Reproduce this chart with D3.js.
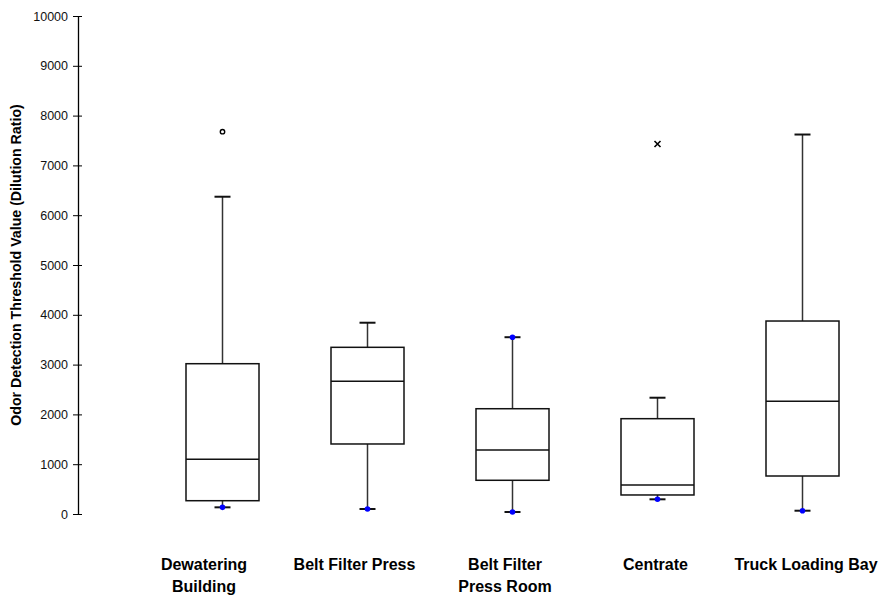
<!DOCTYPE html>
<html>
<head>
<meta charset="utf-8">
<script src="https://cdn.jsdelivr.net/npm/d3@7"></script>
<style>
  html, body { margin: 0; padding: 0; background: #fff; }
  svg { display: block; font-family: Arial, "Liberation Sans", sans-serif; }
</style>
</head>
<body>
<svg id="chart" width="880" height="596"></svg>
<script>
// ---- data ----
const categories = ["Dewatering Building", "Belt Filter Press", "Belt Filter Press Room", "Centrate", "Truck Loading Bay"];
const labelLines = [["Dewatering", "Building"], ["Belt Filter Press"], ["Belt Filter", "Press Room"], ["Centrate"], ["Truck Loading Bay"]];
const whiskerLow  = [134, 100, 40, 295, 66];
const q1          = [267, 1406, 677, 382, 763];
const median      = [1098, 2665, 1285, 582, 2263];
const q3          = [3018, 3347, 2114, 1914, 3875];
const whiskerHigh = [6371, 3841, 3550, 2335, 7620];
const outlierCircles = [{ cat: 0, value: 7677 }];
const outlierCrosses = [{ cat: 3, value: 7430 }];
const blueMarks = [
  { cat: 0, value: 134 }, { cat: 1, value: 100 }, { cat: 2, value: 40 },
  { cat: 2, value: 3550 }, { cat: 3, value: 295 }, { cat: 4, value: 66 }
];
const yTicks = [0, 1000, 2000, 3000, 4000, 5000, 6000, 7000, 8000, 9000, 10000];
const yTitle = "Odor Detection Threshold Value (Dilution Ratio)";

// ---- layout ----
const svg = d3.select("#chart");
const axisX = 78;
const y = d3.scaleLinear().domain([0, 10000]).range([514, 16]);
const x = d3.scaleBand().domain(categories).range([150, 875]).paddingInner(0).paddingOuter(0);
const xLabel = d3.scalePoint().domain(categories).range([204, 806]);
const boxW = 73;
const capW = 16;

// y axis
const yAxis = d3.axisLeft(y).tickValues(yTicks).tickSizeInner(5).tickSizeOuter(0).tickPadding(5)
  .tickFormat(d3.format("d"));
const gy = svg.append("g").attr("transform", `translate(${axisX},0)`).call(yAxis);
gy.select(".domain").attr("stroke", "#000").attr("stroke-width", 1.3);
gy.selectAll(".tick line").attr("x2", -5).attr("x1", 4).attr("stroke", "#000").attr("stroke-width", 1);
gy.selectAll(".tick text").attr("font-size", 12.5).attr("fill", "#111")
  .attr("font-family", "Arial, 'Liberation Sans', sans-serif");

svg.append("text")
  .attr("transform", `translate(21,${(y(0) + y(10000)) / 2}) rotate(-90)`)
  .attr("text-anchor", "middle")
  .attr("font-size", 14.2).attr("font-weight", "bold").attr("fill", "#000")
  .text(yTitle);

// boxes
const g = svg.append("g");
categories.forEach((c, i) => {
  const cx = x(c) + x.bandwidth() / 2;
  g.append("line").attr("x1", cx).attr("x2", cx).attr("y1", y(q3[i])).attr("y2", y(whiskerHigh[i]))
    .attr("stroke", "#333").attr("stroke-width", 1.5);
  g.append("line").attr("x1", cx).attr("x2", cx).attr("y1", y(q1[i])).attr("y2", y(whiskerLow[i]))
    .attr("stroke", "#333").attr("stroke-width", 1.5);
  [whiskerHigh[i], whiskerLow[i]].forEach(v => {
    g.append("line").attr("x1", cx - capW / 2).attr("x2", cx + capW / 2).attr("y1", y(v)).attr("y2", y(v))
      .attr("stroke", "#111").attr("stroke-width", 2);
  });
  g.append("rect").attr("x", cx - boxW / 2).attr("width", boxW)
    .attr("y", y(q3[i])).attr("height", y(q1[i]) - y(q3[i]))
    .attr("fill", "#fff").attr("stroke", "#111").attr("stroke-width", 1.5);
  g.append("line").attr("x1", cx - boxW / 2).attr("x2", cx + boxW / 2).attr("y1", y(median[i])).attr("y2", y(median[i]))
    .attr("stroke", "#111").attr("stroke-width", 1.5);
});

// blue markers
g.selectAll(".blue").data(blueMarks).join("circle")
  .attr("cx", d => x(categories[d.cat]) + x.bandwidth() / 2)
  .attr("cy", d => y(d.value)).attr("r", 2.8).attr("fill", "#0000ff");

// outliers
g.selectAll(".oc").data(outlierCircles).join("circle")
  .attr("cx", d => x(categories[d.cat]) + x.bandwidth() / 2)
  .attr("cy", d => y(d.value)).attr("r", 2.2)
  .attr("fill", "#fff").attr("stroke", "#000").attr("stroke-width", 1.4);
outlierCrosses.forEach(d => {
  const cx = x(categories[d.cat]) + x.bandwidth() / 2, cy = y(d.value), s = 3;
  g.append("path").attr("d", `M${cx - s},${cy - s}L${cx + s},${cy + s}M${cx - s},${cy + s}L${cx + s},${cy - s}`)
    .attr("stroke", "#000").attr("stroke-width", 1.6);
});

// category labels
categories.forEach((c, i) => {
  const t = svg.append("text").attr("x", xLabel(c)).attr("y", 570)
    .attr("text-anchor", "middle").attr("font-size", 16).attr("font-weight", "bold").attr("fill", "#000");
  labelLines[i].forEach((ln, k) => {
    t.append("tspan").attr("x", xLabel(c)).attr("dy", k === 0 ? 0 : 22).text(ln);
  });
});
</script>
</body>
</html>
